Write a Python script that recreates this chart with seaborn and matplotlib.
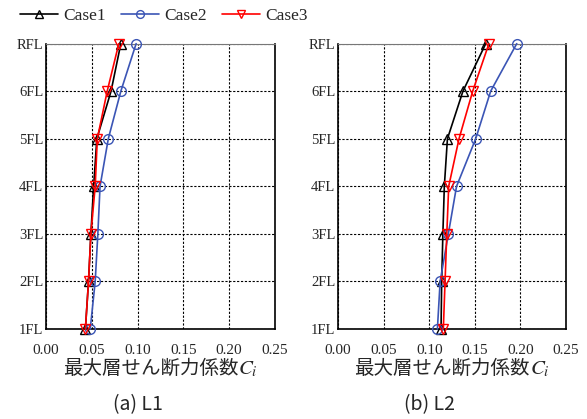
import numpy as np
import pandas as pd
import matplotlib
matplotlib.use("Agg")
import matplotlib.pyplot as plt
import seaborn as sns

floors = ["1FL", "2FL", "3FL", "4FL", "5FL", "6FL", "RFL"]
cases = ["Case1", "Case2", "Case3"]

# L1
l1_case1 = [0.043, 0.0464, 0.049, 0.052, 0.0555, 0.071, 0.0817]
l1_case2 = [0.0483, 0.0537, 0.0566, 0.059, 0.068, 0.0817, 0.0984]
l1_case3 = [0.043, 0.0464, 0.049, 0.0537, 0.056, 0.0668, 0.0795]
# L2
l2_case1 = [0.113, 0.1137, 0.115, 0.1166, 0.120, 0.137, 0.162]
l2_case2 = [0.109, 0.112, 0.121, 0.130, 0.151, 0.1674, 0.196]
l2_case3 = [0.1155, 0.1174, 0.1193, 0.1214, 0.1327, 0.1477, 0.1655]

xticks = [0.00, 0.05, 0.10, 0.15, 0.20, 0.25]
xlabel_text = "最大層せん断力係数"
xlabel_sym = r"$C_i$"
captions = ["(a) L1", "(b) L2"]

sns.set_theme(style="white")
plt.rcParams['font.family'] = ['Liberation Serif', 'Noto Sans CJK JP', 'DejaVu Sans']
plt.rcParams['mathtext.fontset'] = 'stix'

colors = {"Case1": "#000000", "Case2": "#3b55b5", "Case3": "#ff0000"}
markers = {"Case1": "^", "Case2": "o", "Case3": "v"}

fig = plt.figure(figsize=(5.87, 4.19), dpi=100)
ax1 = fig.add_axes([0.0784, 0.2148, 0.390, 0.681])
ax2 = fig.add_axes([0.5758, 0.2148, 0.3884, 0.681])

ypos = np.arange(1, len(floors) + 1)
datasets = [
    (ax1, [l1_case1, l1_case2, l1_case3]),
    (ax2, [l2_case1, l2_case2, l2_case3]),
]

for ax, series in datasets:
    for name, vals in zip(cases, series):
        df = pd.DataFrame({"Ci": vals, "floor": ypos})
        sns.lineplot(data=df, x="Ci", y="floor", sort=False, estimator=None,
                     ax=ax, color=colors[name], marker=markers[name],
                     markersize=7, markerfacecolor="none",
                     markeredgecolor=colors[name], markeredgewidth=1.0,
                     linewidth=1.2, clip_on=False, label=name, zorder=5)
    ax.set_xlim(0, 0.25)
    ax.set_ylim(1, 7)
    ax.set_xticks(xticks)
    ax.set_xticklabels([f"{t:.2f}" for t in xticks], fontsize=11,
                       family=["Liberation Serif"])
    ax.set_yticks(ypos)
    ax.set_yticklabels(floors, fontsize=10.5, family=["Liberation Serif"])
    ax.grid(True, color="black", linestyle=(0, (2, 1.5)), linewidth=0.8)
    ax.tick_params(axis="x", direction="in", length=4, width=1, color="black", pad=11)
    ax.tick_params(axis="y", length=0, pad=2)
    for side in ["left", "bottom", "right"]:
        ax.spines[side].set_color("black")
        ax.spines[side].set_linewidth(1.2)
    ax.spines["top"].set_color("#777777")
    ax.spines["top"].set_linewidth(0.8)
    ax.set_ylabel("")
    ax.set_xlabel("")
    leg = ax.get_legend()
    if leg is not None:
        leg.remove()

handles, labels = ax1.get_legend_handles_labels()
fig.legend(handles, labels, loc="center left", bbox_to_anchor=(0.034, 0.963),
           ncol=3, frameon=False,
           prop={"family": ["Liberation Serif"], "size": 12.5},
           handlelength=2.2, handletextpad=0.3, columnspacing=0.85,
           borderpad=0.0, borderaxespad=0.0, markerscale=0.8)

# x labels: Japanese text followed by italic C_i
fig.canvas.draw()
renderer = fig.canvas.get_renderer()
for ax in [ax1, ax2]:
    t1 = ax.text(0.5, -0.137, xlabel_text, transform=ax.transAxes, ha="center",
                 va="center", fontsize=14, family=["Noto Sans CJK JP"])
    t2 = ax.annotate(xlabel_sym, xy=(1, 0.5), xycoords=t1, ha="left", va="center",
                     xytext=(0, -1), textcoords="offset points", fontsize=15)
    fig.canvas.draw()
    w2 = t2.get_window_extent(renderer).width
    shift = w2 / 2.0 / ax.get_window_extent(renderer).width
    t1.set_x(0.5 - shift)

for ax, cap in zip([ax1, ax2], captions):
    ax.text(0.40, -0.266, cap, transform=ax.transAxes, ha="center", va="center",
            fontsize=14, family=["Noto Sans CJK JP", "DejaVu Sans"])

fig.savefig("out.png", dpi=100)
